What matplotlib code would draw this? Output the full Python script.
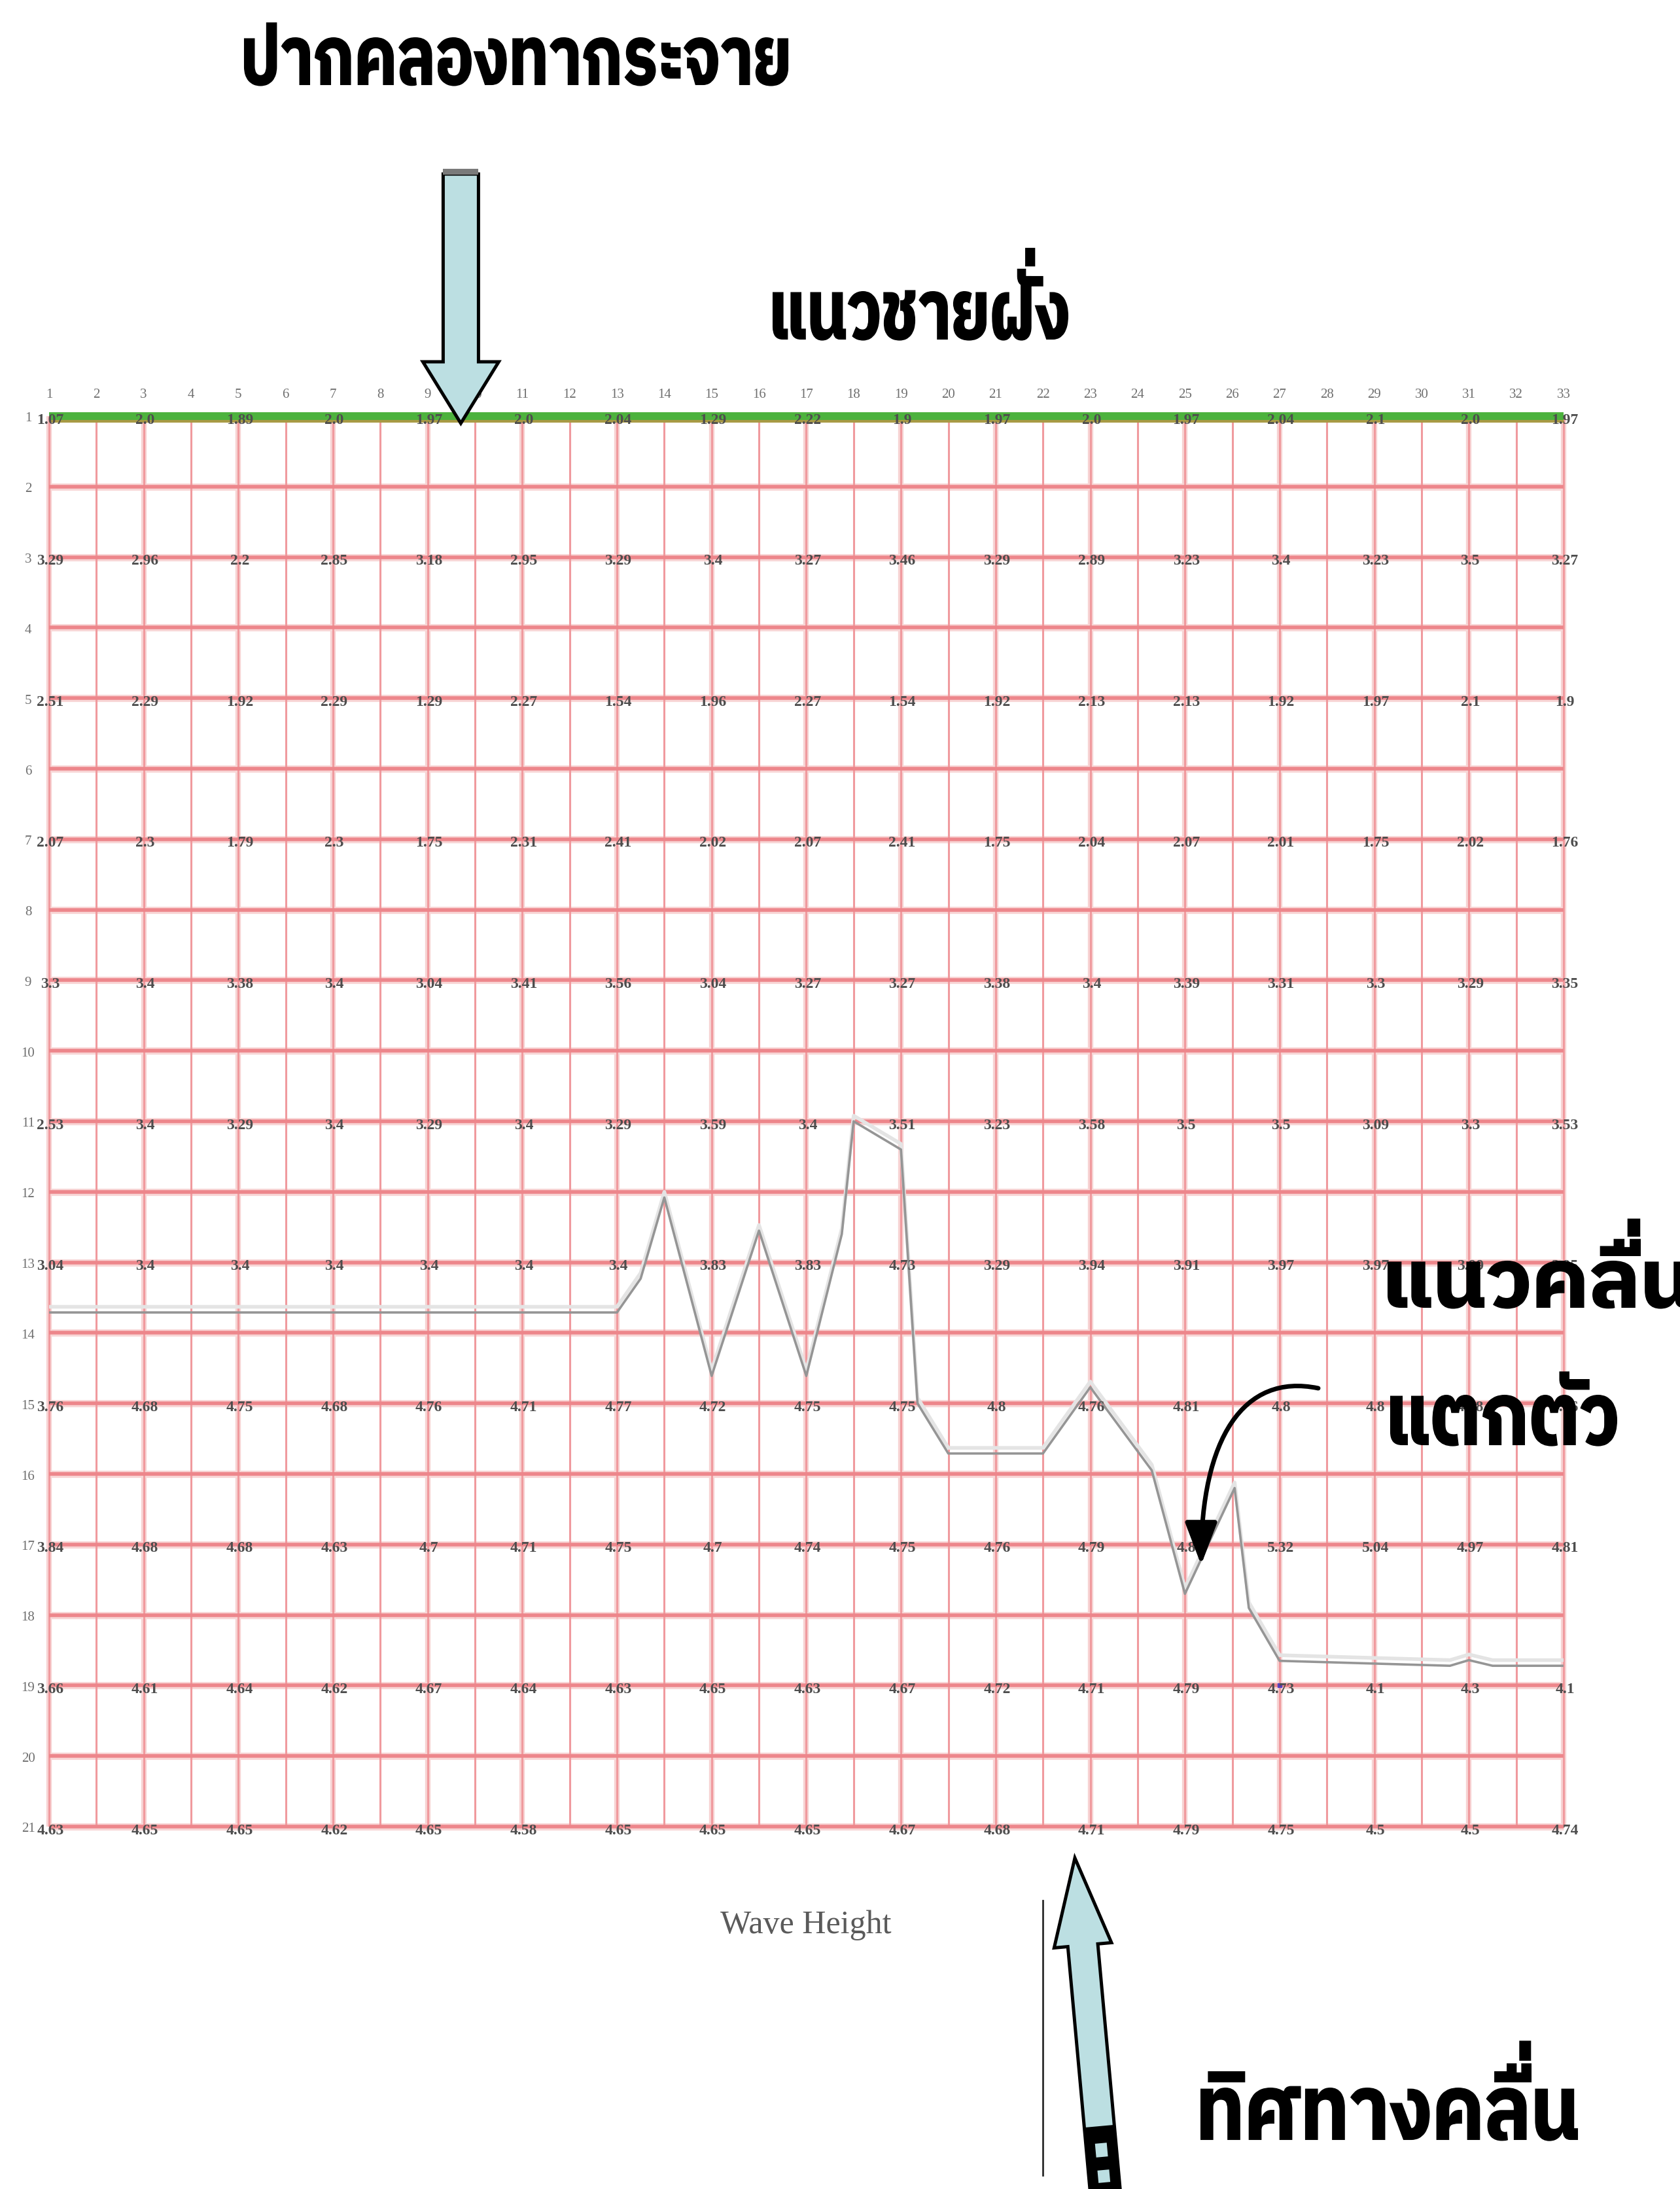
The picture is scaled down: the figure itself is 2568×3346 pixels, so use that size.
import glob
import matplotlib
matplotlib.use("Agg")
import matplotlib.pyplot as plt
from matplotlib import ft2font
from matplotlib.font_manager import FontProperties
from matplotlib.textpath import text_to_path
from matplotlib.patches import PathPatch, Polygon, FancyArrowPatch, Rectangle
from matplotlib.path import Path
from matplotlib.transforms import Affine2D
import numpy as np

W, H = 2568, 3346

# grid: 33 stations along the shore, 21 rows offshore
col_labels = [str(c) for c in range(1, 34)]
row_labels = [str(r) for r in range(1, 22)]
cols = list(range(1, 34))
rows = list(range(1, 22))
value_rows = [1, 3, 5, 7, 9, 11, 13, 15, 17, 19, 21]
value_cols = [1, 3, 5, 7, 9, 11, 13, 15, 17, 19, 21, 23, 25, 27, 29, 31, 33]

values_r1 = [1.07, 2.0, 1.89, 2.0, 1.97, 2.0, 2.04, 1.29, 2.22, 1.9, 1.97, 2.0, 1.97, 2.04, 2.1, 2.0, 1.97]
values_r3 = [3.29, 2.96, 2.2, 2.85, 3.18, 2.95, 3.29, 3.4, 3.27, 3.46, 3.29, 2.89, 3.23, 3.4, 3.23, 3.5, 3.27]
values_r5 = [2.51, 2.29, 1.92, 2.29, 1.29, 2.27, 1.54, 1.96, 2.27, 1.54, 1.92, 2.13, 2.13, 1.92, 1.97, 2.1, 1.9]
values_r7 = [2.07, 2.3, 1.79, 2.3, 1.75, 2.31, 2.41, 2.02, 2.07, 2.41, 1.75, 2.04, 2.07, 2.01, 1.75, 2.02, 1.76]
values_r9 = [3.3, 3.4, 3.38, 3.4, 3.04, 3.41, 3.56, 3.04, 3.27, 3.27, 3.38, 3.4, 3.39, 3.31, 3.3, 3.29, 3.35]
values_r11 = [2.53, 3.4, 3.29, 3.4, 3.29, 3.4, 3.29, 3.59, 3.4, 3.51, 3.23, 3.58, 3.5, 3.5, 3.09, 3.3, 3.53]
values_r13 = [3.04, 3.4, 3.4, 3.4, 3.4, 3.4, 3.4, 3.83, 3.83, 4.73, 3.29, 3.94, 3.91, 3.97, 3.97, 3.99, 3.95]
values_r15 = [3.76, 4.68, 4.75, 4.68, 4.76, 4.71, 4.77, 4.72, 4.75, 4.75, 4.8, 4.76, 4.81, 4.8, 4.8, 4.78, 4.76]
values_r17 = [3.84, 4.68, 4.68, 4.63, 4.7, 4.71, 4.75, 4.7, 4.74, 4.75, 4.76, 4.79, 4.8, 5.32, 5.04, 4.97, 4.81]
values_r19 = [3.66, 4.61, 4.64, 4.62, 4.67, 4.64, 4.63, 4.65, 4.63, 4.67, 4.72, 4.71, 4.79, 4.73, 4.1, 4.3, 4.1]
values_r21 = [4.63, 4.65, 4.65, 4.62, 4.65, 4.58, 4.65, 4.65, 4.65, 4.67, 4.68, 4.71, 4.79, 4.75, 4.5, 4.5, 4.74]
values = [values_r1, values_r3, values_r5, values_r7, values_r9, values_r11,
          values_r13, values_r15, values_r17, values_r19, values_r21]

# breaking line profile (column, row)
profile_x = [1, 13, 13.5, 14, 15, 16, 17, 17.75, 18, 19, 19.35, 20, 22, 23, 24.3, 25,
             26.05, 26.35, 27, 30.6, 31, 31.5, 33]
profile_y = [13.71, 13.71, 13.23, 12.08, 14.61, 12.55, 14.61, 12.6, 11.0, 11.4, 15.0, 15.71,
             15.71, 14.77, 15.95, 17.7, 16.2, 17.9, 18.65, 18.72, 18.64, 18.72, 18.72]

shore_row = 1
canal_mouth_col = 9.7
marker_point = (27, 19)

thai_texts = ["ปากคลองทากระจาย", "แนวชายฝั่ง", "แนวคลื่น", "แตกตัว", "ทิศทางคลื่น"]


def find_thai_font():
    found = glob.glob("/usr/share/fonts/**/IBMPlexSansThai-Bold.ttf", recursive=True)
    if found:
        return found[0]
    for p in glob.glob("/usr/share/fonts/**/*.ttf", recursive=True):
        try:
            if 0x0E01 in ft2font.FT2Font(p).get_charmap():
                return p
        except Exception:
            pass
    return None


UPPER = set("\u0e31\u0e34\u0e35\u0e36\u0e37\u0e47")
TONES = set("\u0e48\u0e49\u0e4a\u0e4b\u0e4c")


def thai_path(s, fp, lift=24):
    # glyph by glyph, lifting tone marks that sit on an upper vowel
    font = text_to_path._get_font(fp)
    info, gmap, _ = text_to_path.get_glyphs_with_font(font, s)
    verts, codes = [], []
    for k, (gid, xp, yp, scale) in enumerate(info):
        v, cds = gmap[gid]
        v = np.asarray(v, float).reshape(-1, 2)
        dy = lift if (k > 0 and s[k] in TONES and s[k - 1] in UPPER) else 0
        verts.extend(v * scale + [xp, yp + dy])
        codes.extend(cds)
    return Path(np.array(verts), np.array(codes))


fig = plt.figure(figsize=(W / 100, H / 100), dpi=100)
fig.patch.set_facecolor("white")

x0_px, x1_px = 75, 2390
y0_px, y1_px = 636, 2792
ax = fig.add_axes([x0_px / W, 1 - y1_px / H, (x1_px - x0_px) / W, (y1_px - y0_px) / H])
ax.set_xlim(1, 33)
ax.set_ylim(21, 1)
ax.axis("off")

# vertical grid lines
for c in cols:
    if c % 2 == 1:
        ax.vlines(c, 1, 21, color="#f7d3d3", lw=6, clip_on=False, zorder=1)
    ax.vlines(c, 1, 21, color="#f09a9e", lw=2.2, clip_on=False, zorder=2)

# horizontal grid lines
for r in rows[1:]:
    ax.hlines(r, 1, 33, color="#f8d6d6", lw=8, clip_on=False, zorder=1)
    ax.hlines(r, 1, 33, color="#ed868b", lw=4, clip_on=False, zorder=3)

# shoreline
ax.hlines(shore_row + 0.055, 1, 33, color="#a89a45", lw=5, clip_on=False, zorder=4)
ax.hlines(shore_row, 1, 33, color="#4cb23d", lw=8.5, clip_on=False, zorder=5)

# breaking line profile
ax.plot(profile_x, np.array(profile_y) - 0.08, color="#e4e4e4", lw=4, zorder=6)
ax.plot(profile_x, profile_y, color="#959595", lw=2.6, zorder=7)
ax.plot(*marker_point, marker="s", ms=5, color="#5a3fbf", zorder=8)

vfont = "Liberation Serif"
for i, r in enumerate(value_rows):
    for j, c in enumerate(value_cols):
        ax.annotate(str(values[i][j]), (c, r), xytext=(2, -6), textcoords="offset pixels",
                    ha="center", va="center", fontsize=17, color="#4d4d4d",
                    fontweight="bold", family=vfont, zorder=9, annotation_clip=False)

for c, lab in zip(cols, col_labels):
    ax.annotate(lab, (c, 1), xytext=(0, 33), textcoords="offset pixels", ha="center",
                va="center", fontsize=15, color="#6e6e6e", family=vfont, annotation_clip=False)
for r, lab in zip(rows, row_labels):
    ax.annotate(lab, (1, r), xytext=(-32, -4), textcoords="offset pixels", ha="center",
                va="center", fontsize=15, color="#6e6e6e", family=vfont, annotation_clip=False)

# overlay in pixel coordinates for annotations
ov = fig.add_axes([0, 0, 1, 1])
ov.set_xlim(0, W)
ov.set_ylim(H, 0)
ov.axis("off")


def col_px(c):
    return x0_px + (c - 1) * (x1_px - x0_px) / 32


def block_arrow(tip, tail, head_len, head_hw, shaft_hw):
    tip = np.array(tip, float)
    tail = np.array(tail, float)
    u = (tail - tip) / np.linalg.norm(tail - tip)
    n = np.array([-u[1], u[0]])
    hb = tip + u * head_len
    pts = [tip, hb + n * head_hw, hb + n * shaft_hw, tail + n * shaft_hw,
           tail - n * shaft_hw, hb - n * shaft_hw, hb - n * head_hw]
    ov.add_patch(Polygon(pts, closed=True, fc="#bcdfe2", ec="black", lw=3.6,
                         joinstyle="miter", zorder=10))
    return u, n


# canal mouth arrow (pointing down)
tx = col_px(canal_mouth_col)
block_arrow((tx, 647), (tx, 266), 94, 58, 27)
ov.add_patch(Rectangle((tx - 27, 258), 54, 9, fc="#7a7a7a", ec="none", zorder=11))

# wave direction arrow (pointing up, slightly tilted)
u, n = block_arrow((1643, 2840), (1694, 3400), 134, 44, 23)
for a, b, col in [(3250, 3400, "black"), (3276, 3297, "#bcdfe2"), (3317, 3336, "#bcdfe2")]:
    p0 = np.array([1643, 2840]) + u * (a - 2840) / u[1]
    p1 = np.array([1643, 2840]) + u * (b - 2840) / u[1]
    w = 23 if col == "black" else 9
    ov.add_patch(Polygon([p0 + n * w, p1 + n * w, p1 - n * w, p0 - n * w], closed=True,
                         fc=col, ec="none", zorder=12))
ov.plot([1594, 1594], [2905, 3325], color="#2a2a2a", lw=2, zorder=10)

# curved arrow to the breaking point
verts = [(2015, 2122), (1900, 2098), (1836, 2200), (1836, 2392)]
arr = FancyArrowPatch(path=Path(verts, [Path.MOVETO, Path.CURVE4, Path.CURVE4, Path.CURVE4]),
                      arrowstyle="-|>,head_length=1.0,head_width=0.38", mutation_scale=40,
                      color="black", lw=5, zorder=12)
ov.add_patch(arr)

ov.text(1232, 2943, "Wave Height", ha="center", va="center", fontsize=36,
        color="#5a5a5a", family=vfont, zorder=10)

# (left, right, baseline, body height) in pixels
thai_boxes = [(374, 1204, 129, 71), (1182, 1632, 518, 72), (2122, 2585, 1998, 70),
              (2126, 2471, 2208, 75), (1836, 2411, 3270, 78)]

thai_file = find_thai_font()
if thai_file:
    fp = FontProperties(fname=thai_file)
    ref = thai_path("น", fp).get_extents()
    for s, (xa, xb, base, bh) in zip(thai_texts, thai_boxes):
        tp = thai_path(s, fp)
        ext = tp.get_extents()
        sx = (xb - xa) / ext.width
        sy = bh / ref.height
        tr = Affine2D().translate(-ext.x0, 0).scale(sx, -sy).translate(xa, base)
        ov.add_patch(PathPatch(tr.transform_path(tp), fc="black", ec="black", lw=1.5,
                               zorder=13, clip_on=False))
else:
    for s, (xa, xb, base, bh) in zip(thai_texts, thai_boxes):
        ov.text(xa, base, s, fontsize=60, va="baseline", ha="left")

fig.savefig("out.png", dpi=100)
